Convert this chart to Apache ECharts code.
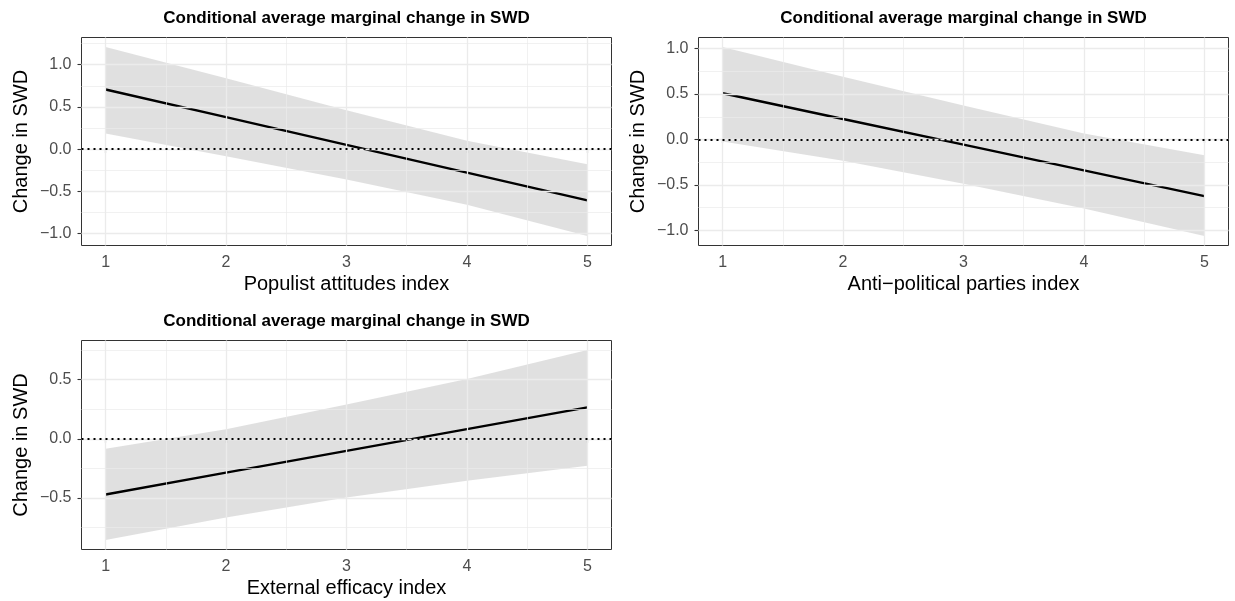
<!DOCTYPE html>
<html>
<head>
<meta charset="utf-8">
<script src="https://cdn.jsdelivr.net/npm/echarts@6/dist/echarts.min.js"></script>
<style>
  html, body { margin: 0; padding: 0; background: #fff; }
  #chart { width: 1235px; height: 601px; }
</style>
</head>
<body>
<div id="chart"></div>
<script>
// data
const xValues = [1, 2, 3, 4, 5];

const populistEst = [0.706, 0.378, 0.050, -0.279, -0.607];
const populistUpper = [1.21, 0.84, 0.46, 0.10, -0.18];
const populistLower = [0.185, -0.085, -0.36, -0.66, -1.03];

const antiEst = [0.509, 0.226, -0.057, -0.340, -0.623];
const antiUpper = [1.018, 0.69, 0.375, 0.065, -0.172];
const antiLower = [-0.022, -0.235, -0.488, -0.76, -1.062];

const efficacyEst = [-0.470, -0.286, -0.102, 0.081, 0.265];
const efficacyUpper = [-0.085, 0.08, 0.29, 0.505, 0.749];
const efficacyLower = [-0.854, -0.665, -0.495, -0.355, -0.228];

const panelTitle = 'Conditional average marginal change in SWD';
const xTitles = ['Populist attitudes index', 'Anti\u2212political parties index', 'External efficacy index'];
const yTitle = 'Change in SWD';
const xTicks = [1, 2, 3, 4, 5];
const xMinor = [1.5, 2.5, 3.5, 4.5];
const yTicks = [
  [-1, -0.5, 0, 0.5, 1],
  [-1, -0.5, 0, 0.5, 1],
  [-0.5, 0, 0.5]
];
const yMinor = [
  [-0.75, -0.25, 0.25, 0.75, 1.25],
  [-0.75, -0.25, 0.25, 0.75],
  [-0.75, -0.25, 0.25, 0.75]
];

const panels = [
  { est: populistEst, upper: populistUpper, lower: populistLower },
  { est: antiEst, upper: antiUpper, lower: antiLower },
  { est: efficacyEst, upper: efficacyUpper, lower: efficacyLower }
];

const layout = [
  { left: 81.5, top: 37.5, width: 530, height: 208, titleTop: 10 },
  { left: 698.5, top: 37.5, width: 530, height: 208, titleTop: 10 },
  { left: 81.5, top: 340.5, width: 530, height: 209, titleTop: 313 }
];

const FONT = "'Liberation Sans', Arial, Helvetica, sans-serif";
const GRID_COLOR = '#EBEBEB';

const fmtY = v => (v < 0 ? '\u2212' : '') + Math.abs(v).toFixed(1);

// ggplot style 5% expansion
function expand(lo, hi) {
  const pad = (hi - lo) * 0.05;
  return [lo - pad, hi + pad];
}

const chart = echarts.init(document.getElementById('chart'));

const titles = [], grids = [], xAxes = [], yAxes = [], series = [];

panels.forEach((p, i) => {
  const g = layout[i];
  const [yMin, yMax] = expand(Math.min(...p.lower), Math.max(...p.upper));

  titles.push({
    text: panelTitle,
    left: g.left + g.width / 2,
    top: g.titleTop,
    padding: 0,
    textAlign: 'center',
    textStyle: { fontFamily: FONT, fontSize: 17, fontWeight: 'bold', color: '#000' }
  });

  grids.push({
    left: g.left, top: g.top, width: g.width, height: g.height,
    show: true, borderColor: '#333333', borderWidth: 1, backgroundColor: 'transparent'
  });

  xAxes.push({
    type: 'value', gridIndex: i, min: 0.8, max: 5.2,
    name: xTitles[i], nameLocation: 'middle', nameGap: 29,
    nameTextStyle: { fontFamily: FONT, fontSize: 20, color: '#000' },
    axisLine: { show: false },
    axisTick: { show: true, length: 4, customValues: xTicks, lineStyle: { color: '#333333', width: 1.1 } },
    axisLabel: { customValues: xTicks, margin: 9, fontFamily: FONT, fontSize: 16, color: '#4D4D4D' },
    splitLine: { show: false }
  });

  yAxes.push({
    type: 'value', gridIndex: i, min: yMin, max: yMax,
    name: yTitle, nameLocation: 'middle', nameGap: 50,
    nameTextStyle: { fontFamily: FONT, fontSize: 20, color: '#000' },
    axisLine: { show: false },
    axisTick: { show: true, length: 4, customValues: yTicks[i], lineStyle: { color: '#333333', width: 1.1 } },
    axisLabel: { customValues: yTicks[i], margin: 10, fontFamily: FONT, fontSize: 16, color: '#4D4D4D', formatter: fmtY },
    splitLine: { show: false }
  });

  const gridLines = [];
  xTicks.forEach(v => gridLines.push({ xAxis: v, lineStyle: { color: GRID_COLOR, width: 1.3, type: 'solid' } }));
  xMinor.forEach(v => gridLines.push({ xAxis: v, lineStyle: { color: GRID_COLOR, width: 0.7, type: 'solid' } }));
  yTicks[i].forEach(v => gridLines.push({ yAxis: v, lineStyle: { color: GRID_COLOR, width: 1.3, type: 'solid' } }));
  yMinor[i].filter(v => v > yMin && v < yMax)
    .forEach(v => gridLines.push({ yAxis: v, lineStyle: { color: GRID_COLOR, width: 0.7, type: 'solid' } }));

  const pts = xValues.map((x, j) => [x, p.est[j]]);

  // panel grid lines (carrier series is invisible)
  series.push({
    type: 'line', xAxisIndex: i, yAxisIndex: i, z: 1,
    data: pts, showSymbol: false, silent: true,
    lineStyle: { opacity: 0 },
    markLine: { silent: true, symbol: 'none', animation: false, label: { show: false }, data: gridLines }
  });

  // confidence band
  series.push({
    type: 'custom', xAxisIndex: i, yAxisIndex: i, z: 2, silent: true,
    data: xValues.map((x, j) => [x, p.lower[j], p.upper[j]]),
    encode: { x: 0, y: [1, 2] },
    renderItem: (params, api) => {
      if (params.dataIndex !== 0) return null;
      const top = xValues.map((x, j) => api.coord([x, p.upper[j]]));
      const bot = xValues.map((x, j) => api.coord([x, p.lower[j]])).reverse();
      return {
        type: 'polygon',
        shape: { points: top.concat(bot) },
        style: { fill: 'rgba(153,153,153,0.3)', stroke: null }
      };
    }
  });

  // estimate line + zero reference
  series.push({
    type: 'line', xAxisIndex: i, yAxisIndex: i, z: 4,
    data: pts, showSymbol: false, silent: true,
    lineStyle: { color: '#000', width: 2.4 },
    markLine: {
      silent: true, symbol: 'none', animation: false, label: { show: false },
      data: [{ yAxis: 0, lineStyle: { color: '#000', width: 2, type: [2, 4] } }]
    }
  });
});

chart.setOption({
  animation: false,
  title: titles,
  grid: grids,
  xAxis: xAxes,
  yAxis: yAxes,
  series: series
});
</script>
</body>
</html>
